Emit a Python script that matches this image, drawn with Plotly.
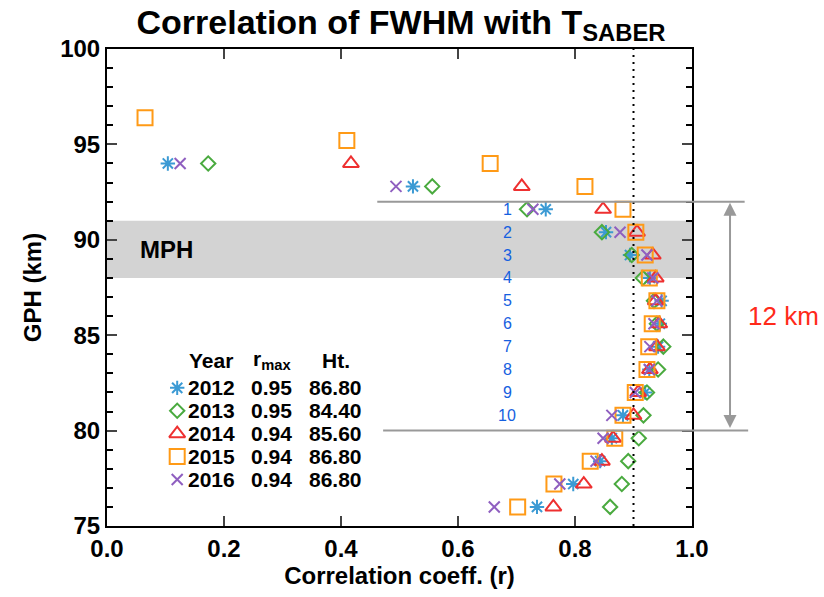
import plotly.graph_objects as go

# ---------------- data ----------------
heights = [94.0, 92.8, 91.6, 90.4, 89.2, 88.0, 86.8, 85.6, 84.4, 83.2, 82.0, 80.8, 79.6, 78.4, 77.2, 76.0]
heights_2015 = [96.4, 95.2] + heights

r_2012 = [0.104, 0.523, 0.750, 0.853, 0.894, 0.928, 0.948, 0.945, 0.942, 0.927, 0.920, 0.882, 0.863, 0.843, 0.797, 0.735]
r_2013 = [0.173, 0.556, 0.718, 0.846, 0.897, 0.916, 0.935, 0.940, 0.951, 0.942, 0.923, 0.917, 0.909, 0.891, 0.880, 0.860]
r_2014 = [0.417, 0.709, 0.848, 0.906, 0.933, 0.938, 0.938, 0.944, 0.940, 0.928, 0.908, 0.900, 0.865, 0.846, 0.815, 0.763]
r_2015 = [0.065, 0.410, 0.655, 0.817, 0.882, 0.904, 0.920, 0.927, 0.940, 0.932, 0.926, 0.923, 0.903, 0.882, 0.868, 0.826, 0.764, 0.702]
r_2016 = [0.125, 0.494, 0.728, 0.877, 0.923, 0.933, 0.940, 0.935, 0.928, 0.927, 0.903, 0.863, 0.848, 0.836, 0.774, 0.662]

years = ["2012", "2013", "2014", "2015", "2016"]
r_max = ["0.95", "0.95", "0.94", "0.94", "0.94"]
ht_max = ["86.80", "84.40", "85.60", "86.80", "86.80"]

level_labels = ["1", "2", "3", "4", "5", "6", "7", "8", "9", "10"]
level_heights = heights[2:12]

x_ticks = [0.0, 0.2, 0.4, 0.6, 0.8, 1.0]
y_ticks = [75, 80, 85, 90, 95, 100]

# ---------------- styles ----------------
FONT = "Liberation Sans, Arial, Helvetica, sans-serif"
colors = ["#3B9AD4", "#4AAA3F", "#EE3030", "#FF9A16", "#8F5FC0"]
symbols = ["asterisk-open", "diamond-open", "triangle-up-open", "square-open", "x-thin-open"]
sizes = [12, 11, 14, 15, 11]

series = [(heights, r_2012), (heights, r_2013), (heights, r_2014), (heights_2015, r_2015), (heights, r_2016)]

fig = go.Figure()
for (h, r), c, s, sz, yr in zip(series, colors, symbols, sizes, years):
    fig.add_trace(go.Scatter(
        x=r, y=h, mode="markers", name=yr, showlegend=False,
        marker=dict(symbol=s, size=sz, color=c, line=dict(color=c, width=2)),
        cliponaxis=False,
    ))

# legend (custom table)
leg_x_marker = 0.120
leg_x_year = 0.1786
leg_x_r = 0.282
leg_x_ht = 0.3906
leg_y_header = 83.70
leg_y_first = 82.24
leg_dy = 1.2
leg_y = [leg_y_first - i * leg_dy for i in range(len(years))]

for i, (c, s, sz) in enumerate(zip(colors, symbols, sizes)):
    fig.add_trace(go.Scatter(
        x=[leg_x_marker], y=[leg_y[i]], mode="markers", showlegend=False, hoverinfo="skip",
        marker=dict(symbol=s, size=sz, color=c, line=dict(color=c, width=2)),
    ))

annotations = []
LEG_FONT = dict(family=FONT, size=21, color="black", weight="bold")
annotations.append(dict(x=leg_x_year, y=leg_y_header, text="Year", showarrow=False, font=LEG_FONT, xref="x", yref="y"))
annotations.append(dict(x=leg_x_r, y=leg_y_header, text="r<sub>max</sub>", showarrow=False, font=LEG_FONT, xref="x", yref="y"))
annotations.append(dict(x=leg_x_ht, y=leg_y_header, text="Ht.", showarrow=False, font=LEG_FONT, xref="x", yref="y"))
for i in range(len(years)):
    annotations.append(dict(x=leg_x_year, y=leg_y[i], text=years[i], showarrow=False, font=LEG_FONT, xref="x", yref="y"))
    annotations.append(dict(x=leg_x_r, y=leg_y[i], text=r_max[i], showarrow=False, font=LEG_FONT, xref="x", yref="y"))
    annotations.append(dict(x=leg_x_ht, y=leg_y[i], text=ht_max[i], showarrow=False, font=LEG_FONT, xref="x", yref="y"))

# level numbers
for lab, h in zip(level_labels, level_heights):
    annotations.append(dict(x=0.684, y=h, text=lab, showarrow=False, xref="x", yref="y",
                            font=dict(family=FONT, size=16, color="#1560E0")))

# MPH label
annotations.append(dict(x=0.053, y=89.5, text="MPH", showarrow=False, xref="x", yref="y", xanchor="left",
                        font=dict(family=FONT, size=24, color="black", weight="bold")))

# 12 km arrow
annotations.append(dict(x=1.065, xref="paper", y=92, yref="y", ax=0, axref="pixel", ay=80, ayref="y",
                        text="", showarrow=True, arrowhead=2, startarrowhead=2, arrowside="end+start",
                        arrowsize=1.3, arrowwidth=2, arrowcolor="#999999", standoff=1, startstandoff=1))
annotations.append(dict(x=1.157, xref="paper", y=86.0, yref="y", text="12 km", showarrow=False,
                        xanchor="center", yanchor="middle",
                        font=dict(family=FONT, size=26, color="#FF2A1A")))

shapes = [
    dict(type="rect", xref="x", yref="y", x0=0, x1=1, y0=88, y1=91, fillcolor="#D3D3D3",
         line=dict(width=0), layer="below"),
    dict(type="line", xref="x", yref="y", x0=0.9, x1=0.9, y0=75, y1=100,
         line=dict(color="black", width=2, dash="2px,5px")),
    dict(type="line", xref="paper", yref="y", x0=0.462, x1=1.09, y0=92, y1=92,
         line=dict(color="#999999", width=2)),
    dict(type="line", xref="paper", yref="y", x0=0.472, x1=1.096, y0=80, y1=80,
         line=dict(color="#999999", width=2)),
]

TICKFONT = dict(family=FONT, size=24, color="black", weight="bold")

fig.update_layout(
    width=824, height=597,
    margin=dict(l=107, r=132, t=49, b=68),
    paper_bgcolor="white", plot_bgcolor="white",
    title=dict(text="Correlation of FWHM with T<sub>SABER</sub>", x=0.4867, xanchor="center",
               y=0.963, yanchor="middle", yref="container",
               font=dict(family=FONT, size=34, color="black", weight="bold")),
    xaxis=dict(range=[0, 1], tickvals=x_ticks, tickformat=".1f", ticks="inside", ticklen=10, tickwidth=2,
               showline=True, linewidth=2, linecolor="black", mirror="ticks", showgrid=False, zeroline=False,
               tickfont=TICKFONT,
               title=dict(text="Correlation coeff. (r)", standoff=6,
                          font=dict(family=FONT, size=24, color="black", weight="bold"))),
    yaxis=dict(range=[75, 100], tickvals=y_ticks, ticks="inside", ticklen=10, tickwidth=2,
               minor=dict(dtick=1, ticks="inside", ticklen=6, tickwidth=2, tickcolor="black", showgrid=False),
               showline=True, linewidth=2, linecolor="black", mirror="ticks", showgrid=False, zeroline=False,
               tickfont=TICKFONT,
               title=dict(text="GPH (km)", standoff=12,
                          font=dict(family=FONT, size=24, color="black", weight="bold"))),
    annotations=annotations,
    shapes=shapes,
)

fig.write_html("out.html")
